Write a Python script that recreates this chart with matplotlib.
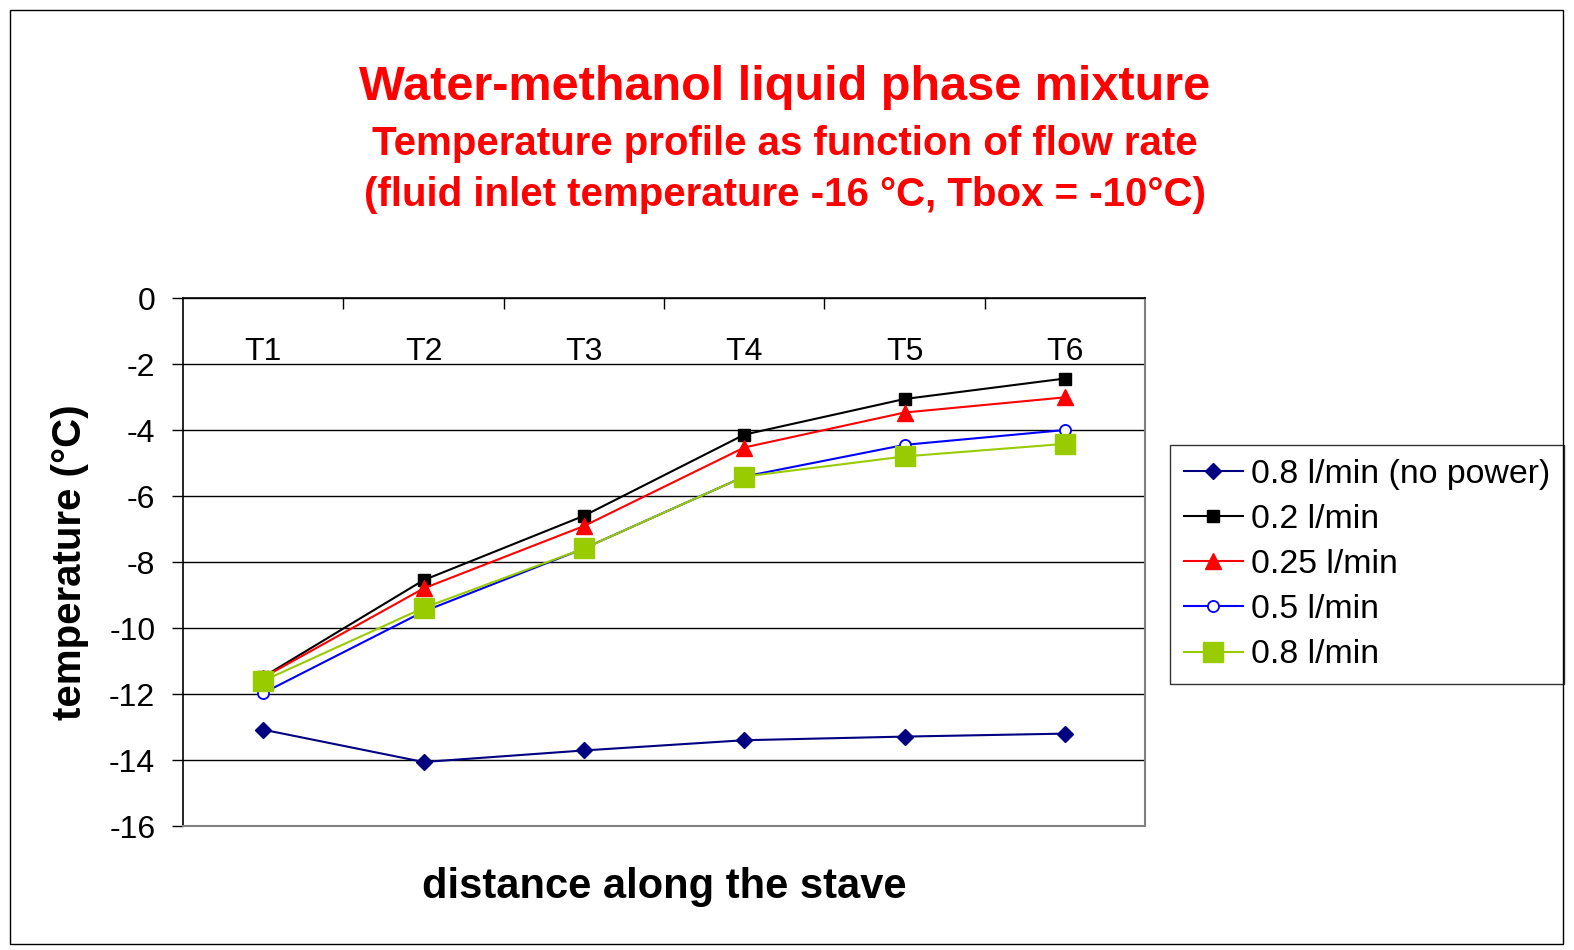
import numpy as np
import matplotlib
matplotlib.use("Agg")
import matplotlib.pyplot as plt
from matplotlib.patches import Rectangle
from matplotlib.ticker import MultipleLocator

plt.rcParams['font.family'] = ['Liberation Sans', 'DejaVu Sans']

# data
sensors = ['T1', 'T2', 'T3', 'T4', 'T5', 'T6']
no_power_08 = [-13.08, -14.06, -13.71, -13.40, -13.29, -13.20]
flow_020 = [-11.48, -8.55, -6.60, -4.14, -3.06, -2.44]
flow_025 = [-11.50, -8.80, -6.91, -4.53, -3.47, -3.01]
flow_050 = [-11.97, -9.50, -7.59, -5.41, -4.45, -4.00]
flow_080 = [-11.60, -9.39, -7.59, -5.41, -4.80, -4.42]

fig = plt.figure(figsize=(15.74, 9.5), dpi=100)
ax = fig.add_axes([0.1163, 0.1305, 0.6112, 0.5558])

x = np.arange(len(sensors))
ax.plot(x, no_power_08, color='#000080', marker='D', markersize=8, lw=1.5, label='0.8 l/min (no power)')
ax.plot(x, flow_020, color='black', marker='s', markersize=9, lw=1.5, label='0.2 l/min')
ax.plot(x, flow_025, color='red', marker='^', markersize=11, lw=1.5, label='0.25 l/min')
ax.plot(x, flow_050, color='blue', marker='o', markersize=8, mfc='white', mew=1.3, lw=1.5, label='0.5 l/min')
ax.plot(x, flow_080, color='#99CC00', marker='s', markersize=15, lw=1.5, label='0.8 l/min')

ax.set_xlim(-0.5, len(sensors) - 0.5)
ax.set_ylim(-16, 0)
ax.yaxis.set_major_locator(MultipleLocator(2))
ax.grid(axis='y', color='black', lw=1)
ax.set_axisbelow(True)

# category labels sit just under the top axis line
ax.set_xticks(x)
ax.set_xticklabels(sensors)
ax.set_xticks(x[:-1] + 0.5, minor=True)
ax.tick_params(axis='x', which='major', bottom=False, labelbottom=False, top=False,
               labeltop=True, pad=-53, labelsize=23)
ax.tick_params(axis='x', which='minor', bottom=False, top=True, direction='in', length=8, width=1)
ax.tick_params(axis='y', labelsize=23, length=8, width=1, pad=12)
ax.set_yticklabels([str(int(v)) for v in ax.get_yticks()])

for s in ['right', 'bottom']:
    ax.spines[s].set_color('#808080')
    ax.spines[s].set_linewidth(1.5)
for s in ['left', 'top']:
    ax.spines[s].set_color('black')
    ax.spines[s].set_linewidth(1.2)

fig.text(0.4987, 1 - 100 / 950, 'Water-methanol liquid phase mixture', color='red',
         fontsize=35, fontweight='bold', ha='center', va='baseline')
fig.text(0.4987, 1 - 155 / 950, 'Temperature profile as function of flow rate', color='red',
         fontsize=29, fontweight='bold', ha='center', va='baseline')
fig.text(0.4987, 1 - 206 / 950, '(fluid inlet temperature -16 °C, Tbox = -10°C)', color='red',
         fontsize=29, fontweight='bold', ha='center', va='baseline')

fig.text(0.4219, 1 - 898 / 950, 'distance along the stave', fontsize=30, fontweight='bold',
         ha='center', va='baseline')
fig.text(70 / 1574, 1 - 562 / 950, 'temperature (°C)', fontsize=29, fontweight='bold',
         ha='center', va='center', rotation=90)

leg = ax.legend(loc='upper left', bbox_to_anchor=(1170 / 1574, 1 - 445 / 950),
                bbox_transform=fig.transFigure, borderaxespad=0, fancybox=False,
                edgecolor='black', fontsize=24.4, labelspacing=0.42, handlelength=1.75,
                handletextpad=0.25, borderpad=0.4)
leg.get_frame().set_linewidth(1)

fig.patches.append(Rectangle((10 / 1574, 6 / 950), 1553 / 1574, 934 / 950, transform=fig.transFigure,
                             fill=False, edgecolor='black', lw=1))

fig.savefig('out.png', dpi=100)
